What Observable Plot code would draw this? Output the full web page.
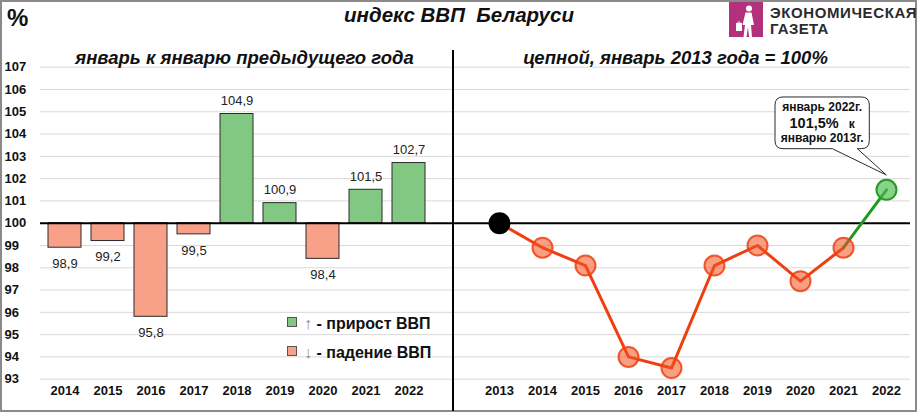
<!DOCTYPE html>
<html>
<head>
<meta charset="utf-8">
<script src="https://cdn.jsdelivr.net/npm/d3@7"></script>
<script src="https://cdn.jsdelivr.net/npm/@observablehq/plot@0.6"></script>
<style>
  body { margin: 0; background: #fff; }
  #chart { position: relative; width: 918px; height: 415px; overflow: hidden;
           font-family: "Liberation Sans", Arial, sans-serif; color: #111; }
  #chart svg.plot { position: absolute; top: 0; }
  .border { position: absolute; left: 0; top: 0; width: 913px; height: 408px; border: 2px solid #8a8a8a; }
  .divider { position: absolute; left: 452px; top: 50px; width: 2px; height: 361px; background: #000; }
  .txt { position: absolute; white-space: pre; line-height: 1; }
  .title { left: 0; width: 918px; top: 5px; text-align: center; font-size: 20.5px; font-weight: bold; font-style: italic; }
  .pct { left: 7px; top: 6px; font-size: 24px; font-weight: bold; }
  .sub { top: 49px; font-size: 18.5px; font-weight: bold; font-style: italic; text-align: center; }
  .logo { position: absolute; left: 729px; top: 2px; }
  .logotext { left: 770px; font-size: 15px; font-weight: bold; color: #2b2b2b; }
  .leg { left: 287px; font-size: 16px; font-weight: bold; }
  .leg .sw { display: inline-block; width: 8px; height: 8px; border: 1px solid #555; margin-right: 7px; vertical-align: 2px; }
  .leg .ar { color: #8c8c8c; font-weight: normal; }
</style>
</head>
<body>
<div id="chart">
  <div class="border"></div>
</div>
<script>
// Year-on-year GDP index, January to January of the previous year (%)
const years = [2014, 2015, 2016, 2017, 2018, 2019, 2020, 2021, 2022];
const yoyValues = [98.9, 99.2, 95.8, 99.5, 104.9, 100.9, 98.4, 101.5, 102.7];

// Chained index, January 2013 = 100%
const chainYears = [2013, 2014, 2015, 2016, 2017, 2018, 2019, 2020, 2021, 2022];
const chainValues = [100, 98.9, 98.1, 94.0, 93.5, 98.1, 99.0, 97.4, 98.9, 101.5];

const yTicks = [93, 94, 95, 96, 97, 98, 99, 100, 101, 102, 103, 104, 105, 106, 107];

const green = "#82c882";
const salmon = "#f9a088";
const lineRed = "#ef3f10";
const lineGreen = "#1e9a1e";
const gridColor = "#d9d9d9";

const fmt = v => d3.format(".1f")(v).replace(".", ",");

const yoy = years.map((year, i) => ({year, value: yoyValues[i], base: 100}));
const chain = chainYears.map((year, i) => ({year, value: chainValues[i]}));

const common = {
  height: 415,
  marginTop: 66.7,
  marginBottom: 36.3,
  y: {domain: [93, 107], axis: null},
  style: {fontFamily: "'Liberation Sans', Arial, sans-serif", background: "transparent", color: "#111", overflow: "visible"}
};

// Left panel: bars around the 100% baseline
const left = Plot.plot({
  ...common,
  width: 455,
  marginLeft: 40,
  marginRight: 0,
  x: {type: "band", domain: years, paddingInner: 0.24, paddingOuter: 0.12, insetRight: 23, axis: null},
  marks: [
    Plot.ruleY(yTicks, {stroke: gridColor, strokeWidth: 1}),
    Plot.barY(yoy, {x: "year", y1: "base", y2: "value",
      fill: d => d.value >= 100 ? green : salmon, stroke: "#2a2a2a", strokeWidth: 1}),
    Plot.ruleY([100], {stroke: "#000", strokeWidth: 2}),
    Plot.text(yoy.filter(d => d.value >= 100), {x: "year", y: "value", text: d => fmt(d.value),
      dy: -13, fontSize: 13, fill: "#222"}),
    Plot.text(yoy.filter(d => d.value < 100), {x: "year", y: "value", text: d => fmt(d.value),
      dy: 16, fontSize: 13, fill: "#222"}),
    Plot.text(yTicks, {y: d => d, text: d => String(d), frameAnchor: "left", textAnchor: "start",
      dx: -36, fontSize: 13, fontWeight: "bold", fill: "#111"}),
    Plot.text(years, {x: d => d, text: d => String(d), frameAnchor: "bottom",
      dy: 15.5, fontSize: 13, fontWeight: "bold", fill: "#111"})
  ]
});

// Callout pinned to the last chained value
function callout(index, scales) {
  const last = chain[chain.length - 1];
  const px = scales.x(last.year), py = scales.y(last.value);
  const x0 = px - 111, x1 = px - 16.7, y0 = py - 92.3, y1 = py - 40.6, r = 8;
  const g = d3.create("svg:g");
  g.append("path")
    .attr("d", `M${x0 + r},${y0}H${x1 - r}Q${x1},${y0} ${x1},${y0 + r}V${y1 - r}Q${x1},${y1} ${x1 - r},${y1}` +
               `H${px - 28.7}L${px + 0.3},${py - 14.3}L${px - 53.7},${y1}H${x0 + r}Q${x0},${y1} ${x0},${y1 - r}V${y0 + r}Q${x0},${y0} ${x0 + r},${y0}Z`)
    .attr("fill", "#fff").attr("stroke", "#2a2a2a").attr("stroke-width", 1);
  const cx = (x0 + x1) / 2;
  const t = g.append("g").attr("text-anchor", "middle").attr("font-weight", "bold").attr("fill", "#111");
  t.append("text").attr("x", cx).attr("y", py - 78.5).attr("font-size", 12).text("январь 2022г.");
  const mid = t.append("text").attr("x", cx).attr("y", py - 61.5);
  mid.append("tspan").attr("font-size", 14.5).text(fmt(last.value) + "%");
  mid.append("tspan").attr("font-size", 12).text("\u00a0\u00a0\u00a0к");
  t.append("text").attr("x", cx).attr("y", py - 47.5).attr("font-size", 12).text("январю 2013г.");
  return g.node();
}

// Right panel: chained index line
const right = Plot.plot({
  ...common,
  width: 463,
  marginLeft: 0,
  marginRight: 8,
  x: {type: "point", domain: chainYears, padding: 0.5, insetLeft: 20, insetRight: 1, axis: null},
  marks: [
    Plot.ruleY(yTicks, {stroke: gridColor, strokeWidth: 1}),
    Plot.ruleY([100], {stroke: "#000", strokeWidth: 2}),
    Plot.line(chain.slice(0, 9), {x: "year", y: "value", stroke: lineRed, strokeWidth: 3}),
    Plot.line(chain.slice(8), {x: "year", y: "value", stroke: lineGreen, strokeWidth: 3}),
    Plot.dot(chain.slice(1, 9), {x: "year", y: "value", r: 10, fill: "#f4511e", fillOpacity: 0.55,
      stroke: lineRed, strokeOpacity: 0.85, strokeWidth: 2}),
    Plot.dot(chain.slice(0, 1), {x: "year", y: "value", r: 11, fill: "#000"}),
    Plot.dot(chain.slice(9), {x: "year", y: "value", r: 10, fill: "#4cb84c", fillOpacity: 0.65,
      stroke: "#259a25", strokeWidth: 2}),
    Plot.text(chainYears, {x: d => d, text: d => String(d), frameAnchor: "bottom",
      dy: 15.5, fontSize: 13, fontWeight: "bold", fill: "#111"}),
    callout
  ]
});

const chart = document.getElementById("chart");
left.classList.add("plot");
right.classList.add("plot");
left.style.left = "0px";
right.style.left = "455px";
chart.appendChild(left);
chart.appendChild(right);

const html = (cls, text, css) => {
  const el = document.createElement("div");
  el.className = "txt " + cls;
  el.innerHTML = text;
  if (css) Object.assign(el.style, css);
  chart.appendChild(el);
  return el;
};

chart.insertAdjacentHTML("beforeend", '<div class="divider"></div>');
html("title", "индекс ВВП  Беларуси");
html("pct", "%");
html("sub", "январь к январю предыдущего года", {left: "72px", width: "345px"});
html("sub", "цепной, январь 2013 года = 100%", {left: "521px", width: "309px"});
html("leg", `<span class="sw" style="background:${green}"></span><span class="ar">↑</span> - прирост ВВП`, {top: "316px"});
html("leg", `<span class="sw" style="background:${salmon}"></span><span class="ar">↓</span> - падение ВВП`, {top: "345px"});

// Newspaper logo
chart.insertAdjacentHTML("beforeend", `
<svg class="logo" width="34" height="35" viewBox="0 0 34 35">
  <rect width="34" height="35" fill="#b3307c"/>
  <circle cx="20" cy="6.5" r="3" fill="#fff"/>
  <path d="M16.5 10.5 L22.5 10.5 L25 23 L22 23 L23 35 L20 35 L19 25 L17.5 35 L14.5 35 L16 23 L13.5 23 Z" fill="#fff"/>
  <rect x="7" y="21" width="6" height="8" fill="#fff"/>
  <path d="M8.5 21 Q10 18 11.5 21" stroke="#fff" stroke-width="1" fill="none"/>
</svg>`);
html("logotext", "ЭКОНОМИЧЕСКАЯ", {top: "5px", letterSpacing: "0.6px"});
html("logotext", "ГАЗЕТА", {top: "21px", letterSpacing: "0.3px"});
</script>
</body>
</html>
